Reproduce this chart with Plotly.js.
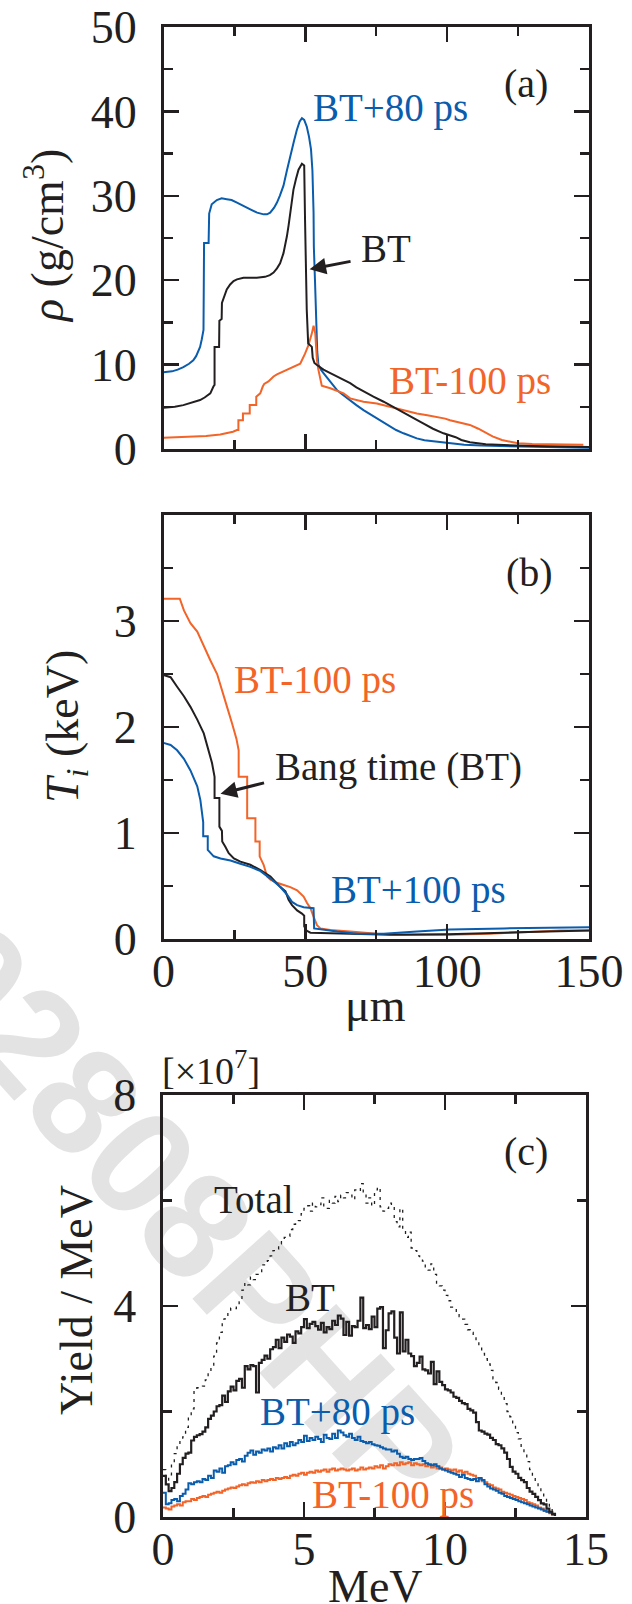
<!DOCTYPE html>
<html><head><meta charset="utf-8">
<script src="https://cdn.plot.ly/plotly-3.0.1.min.js"></script>
<style>html,body{margin:0;padding:0;background:#fff}#chart{width:632px;height:1604px}</style>
</head><body><div id="chart"></div>
<script>
// ---------- Panel (a): density rho (g/cm^3) vs radius (um) ----------
const rhoX_BTp80 = [0,3,5,7,9,10.5,11.5,12.3,12.9,13.5,14.1,14.3,15.9,16.1,16.5,17.0,18.8,20.5,22.3,24,25.9,28,30.6,33,35.3,36.5,37.6,39,40,41,42.3,43.5,44.7,46,47,48,48.8,49.6,50.5,51.3,52.0,52.5,52.9,53.0,53.4,53.8,54.2,54.6,55.5,56.4,57.5,58.8,60,61.1,62.5,64,65.8,68,70.5,73,75.2,77.5,79.9,82,84.6,87,89.3,92,96.4,101,106,112,120,130,140,150];
const rhoY_BTp80 = [9.1,9.2,9.4,9.7,10.1,10.5,11.0,11.6,12.1,13.0,14.1,24.4,24.4,27.9,28.5,29.0,29.5,29.7,29.6,29.5,29.2,28.8,28.4,28.0,27.8,27.8,28.0,28.6,29.2,30.0,31.2,33.0,34.8,36.5,37.8,38.8,39.2,39.0,38.2,37.0,35.5,33.0,28.0,24.0,20.0,14.0,11.5,10.0,9.4,9.0,8.5,8.0,7.5,7.0,6.6,6.2,5.8,5.2,4.6,4.1,3.6,3.1,2.65,2.25,1.86,1.55,1.26,1.05,0.87,0.67,0.5,0.4,0.32,0.25,0.2,0.15];
const rhoX_BT = [0,4,7,10,12.9,14.5,16.5,17.6,18.0,18.0,19.6,19.7,20.5,20.6,21.5,22.3,23.5,24.7,25.9,28.2,32.9,35.8,37.5,38.8,40,41.1,42.3,43,43.5,44.1,44.7,45.3,45.8,46.7,47.6,48.8,49.6,49.9,50.2,50.5,51.0,52.3,52.6,53.2,54.1,56.4,58.8,61.1,63.5,65.8,68,70.5,74,77.6,81,84.6,88,91.7,95,98.7,101,103,105,108,113.6,120,130,140,150];
const rhoY_BT = [4.9,5.0,5.2,5.5,5.8,6.1,6.6,7.4,7.6,12.1,12.1,15.2,15.4,17.3,18.2,18.9,19.5,19.9,20.1,20.3,20.3,20.4,20.6,20.9,21.4,22.0,23.2,24.2,25.2,26.5,27.9,29.3,30.7,32.0,33.1,33.8,33.6,27.1,20.8,16.5,12.5,12.1,10.8,10.2,9.95,9.4,9.0,8.6,8.2,7.8,7.3,6.8,6.2,5.6,5.0,4.4,3.7,3.0,2.4,1.86,1.66,1.4,1.07,0.8,0.55,0.45,0.35,0.3,0.25];
const rhoX_BTm100 = [0,5,10,15,20,22.3,24.5,25.9,26.4,26.4,28.0,28.0,30.4,30.4,32.7,32.7,34.1,35.0,35.5,37,38.8,40,42.3,44,45.8,48.2,49.9,51.1,52.3,52.9,53.5,54.1,54.6,55.2,55.8,58.8,61.1,63.5,65.8,70.5,75.2,79.9,84.6,89.3,93,96.4,99.3,101,104,108,111,113.6,116,119.3,122,125,130,140,148];
const rhoY_BTm100 = [1.34,1.4,1.45,1.55,1.72,1.86,2.05,2.25,2.25,3.4,3.4,4.2,4.2,5.2,5.2,6.2,6.6,7.4,7.7,8.0,8.6,8.85,9.2,9.5,9.75,10.1,11.3,12.3,13.7,14.6,13.7,10.5,9.4,8.2,7.5,7.2,6.9,6.6,6.0,5.6,5.4,5.0,4.6,4.2,4.0,3.8,3.6,3.4,3.2,2.85,2.4,1.9,1.5,1.07,0.85,0.67,0.58,0.52,0.5];

// ---------- Panel (b): ion temperature Ti (keV) vs radius (um) ----------
const tiX_BTm100 = [0,5.75,7.2,9.5,11.9,14.2,16.5,18.9,20.7,22.4,24.2,25.7,26.5,26.5,29.5,29.5,32.4,32.4,33.9,33.9,35.3,36.5,37.7,40.0,42.4,44.7,47.1,49.4,50.6,51.8,52.9,54.1,55.3,58.8,65.8,75.2,84.6,101,115,130,140,150];
const tiY_BTm100 = [3.21,3.21,3.10,2.98,2.90,2.76,2.63,2.50,2.35,2.19,2.03,1.89,1.78,1.53,1.53,1.14,1.14,0.92,0.92,0.78,0.70,0.59,0.56,0.53,0.51,0.49,0.46,0.40,0.34,0.29,0.21,0.13,0.10,0.085,0.07,0.05,0.04,0.04,0.05,0.07,0.08,0.08];
const tiX_BT = [0,2.5,4.8,7.2,9.5,11.9,14.2,16.0,17.1,18.0,18.0,19.7,19.7,20.6,20.7,21.8,23.0,24.8,27.1,30.6,34.2,37.7,41.2,43.0,44.1,45.3,47.1,48.8,49.6,49.6,50.4,51.8,56.5,65.8,80,100,120,135,150];
const tiY_BT = [2.49,2.47,2.38,2.29,2.19,2.07,1.94,1.78,1.66,1.53,1.33,1.33,1.06,1.02,0.92,0.87,0.81,0.76,0.73,0.70,0.65,0.59,0.49,0.45,0.37,0.32,0.27,0.24,0.22,0.12,0.08,0.06,0.055,0.05,0.04,0.045,0.06,0.07,0.08];
const tiX_BTp100 = [0,2.5,4.8,7.2,9.5,11.9,13.0,13.6,14.0,14.0,15.6,15.6,16.5,17.7,20.1,23.6,27.1,30.6,34.2,37.7,41.2,43.5,45.3,47.1,49.4,52.3,52.9,53.1,56.5,61.2,68.2,77.6,89.3,101,120,150];
const tiY_BTp100 = [1.85,1.83,1.78,1.70,1.59,1.44,1.31,1.19,1.10,0.97,0.97,0.84,0.81,0.78,0.76,0.74,0.71,0.68,0.64,0.57,0.49,0.42,0.35,0.32,0.30,0.29,0.29,0.10,0.085,0.07,0.05,0.05,0.07,0.09,0.1,0.11];

// ---------- Panel (c): yield / MeV (x1e7), 0.1 MeV bins starting at 0 MeV ----------
const binWidthMeV = 0.1;
const yieldTotal = [
0.90,0.62,0.80,1.00,1.20,1.35,1.45,1.52,1.70,1.90,
2.05,2.40,2.45,2.46,2.48,2.60,2.75,2.85,3.05,3.30,
3.50,3.75,3.80,3.90,3.96,3.95,4.00,4.08,4.30,4.44,
4.40,4.55,4.50,4.60,4.62,4.78,4.80,4.86,4.95,5.05,
5.08,5.18,5.25,5.30,5.32,5.45,5.55,5.60,5.62,5.75,
5.85,5.90,5.80,5.95,5.88,5.92,6.05,5.90,5.85,6.00,
5.95,6.08,5.98,6.10,6.05,6.15,6.10,6.02,6.20,6.18,
6.32,6.12,5.95,6.05,5.90,6.20,6.25,5.88,5.80,5.85,
5.95,5.90,5.60,5.50,5.85,5.45,5.30,5.40,5.10,5.05,
4.95,4.90,4.85,4.72,4.68,4.80,4.60,4.40,4.38,4.30,
4.20,4.10,3.98,3.95,3.90,3.80,3.75,3.65,3.55,3.50,
3.42,3.35,3.22,3.10,3.00,2.90,2.78,2.62,2.55,2.42,
2.30,2.15,2.00,1.90,1.75,1.60,1.48,1.30,1.20,1.05,
0.90,0.78,0.65,0.55,0.45,0.35,0.25,0.18,0.08,0.03];
const yieldBT = [
0.78,0.62,0.49,0.55,0.66,0.82,1.00,1.12,1.20,1.22,
1.45,1.52,1.55,1.57,1.62,1.70,1.86,1.92,2.00,2.10,
2.12,2.30,2.18,2.38,2.47,2.40,2.58,2.62,2.45,2.86,
2.80,2.88,2.86,2.36,2.92,2.98,3.06,3.00,3.18,3.22,
3.36,3.20,3.40,3.32,3.46,3.42,3.30,3.52,3.48,3.60,
3.75,3.58,3.66,3.70,3.62,3.55,3.68,3.50,3.60,3.56,
3.72,3.64,3.82,3.76,3.45,3.70,3.44,3.62,3.60,3.72,
4.16,3.58,3.64,3.56,3.80,3.60,3.95,3.98,3.20,3.54,
3.86,3.90,3.40,3.10,3.88,3.14,3.36,3.10,3.05,2.86,
2.92,3.04,2.80,2.78,2.72,2.94,2.52,2.76,2.56,2.50,
2.42,2.40,2.36,2.28,2.26,2.20,2.16,2.14,2.05,2.02,
1.98,1.80,1.64,1.62,1.58,1.56,1.50,1.46,1.38,1.36,
1.30,1.22,1.10,0.95,0.86,0.82,0.74,0.70,0.66,0.55,
0.48,0.44,0.38,0.32,0.26,0.24,0.16,0.10,0.06,0.02];
const yieldBTp80 = [
0.46,0.24,0.26,0.32,0.34,0.30,0.40,0.44,0.52,0.64,
0.62,0.66,0.68,0.66,0.72,0.70,0.78,0.74,0.88,0.86,
0.92,0.84,0.96,0.98,1.04,1.00,1.08,1.10,1.05,1.16,
1.22,1.26,1.18,1.24,1.22,1.28,1.26,1.30,1.24,1.32,
1.30,1.36,1.30,1.40,1.34,1.42,1.36,1.40,1.46,1.42,
1.54,1.44,1.50,1.46,1.52,1.48,1.42,1.56,1.50,1.48,
1.58,1.50,1.64,1.60,1.55,1.52,1.58,1.50,1.46,1.52,
1.44,1.42,1.40,1.42,1.38,1.36,1.35,1.32,1.30,1.28,
1.28,1.24,1.26,1.20,1.14,1.12,1.14,1.10,1.08,1.10,
1.10,1.12,1.06,1.02,1.00,0.98,1.00,0.96,0.92,0.90,
0.88,0.86,0.84,0.82,0.80,0.76,0.80,0.74,0.72,0.70,
0.72,0.68,0.74,0.70,0.62,0.58,0.54,0.52,0.50,0.46,
0.44,0.40,0.38,0.36,0.34,0.32,0.30,0.28,0.26,0.24,
0.22,0.20,0.18,0.16,0.14,0.12,0.10,0.08,0.05,0.02];
const yieldBTm100 = [
0.18,0.16,0.14,0.20,0.22,0.24,0.22,0.28,0.30,0.30,
0.34,0.32,0.36,0.38,0.40,0.38,0.42,0.44,0.46,0.48,
0.46,0.50,0.52,0.54,0.56,0.55,0.58,0.60,0.62,0.60,
0.64,0.66,0.65,0.68,0.66,0.70,0.68,0.70,0.72,0.70,
0.74,0.72,0.74,0.76,0.74,0.78,0.80,0.78,0.82,0.84,
0.80,0.84,0.86,0.84,0.88,0.86,0.88,0.90,0.86,0.90,
0.92,0.88,0.90,0.92,0.90,0.88,0.90,0.92,0.88,0.90,
0.94,0.90,0.92,0.94,0.92,0.96,0.94,0.98,0.92,0.96,
1.00,0.98,1.02,0.98,1.04,1.00,1.02,1.04,0.98,1.02,
1.00,0.98,1.00,0.96,0.98,0.94,0.96,0.92,0.94,0.90,
0.92,0.90,0.88,0.90,0.86,0.88,0.84,0.86,0.82,0.80,
0.78,0.74,0.72,0.68,0.66,0.62,0.60,0.56,0.54,0.52,
0.48,0.46,0.44,0.42,0.40,0.38,0.36,0.34,0.32,0.28,
0.26,0.24,0.22,0.18,0.16,0.12,0.10,0.07,0.04,0.02];

// ---------- Tick values ----------
const rhoTicks = [0,10,20,30,40,50], rhoMinor = [5,15,25,35,45];
const posTicks = [0,50,100,150], posMinor = [25,75,125];
const tiTicks = [0,1,2,3], tiMinor = [0.5,1.5,2.5,3.5];
const mevTicks = [0,5,10,15], mevMinor = [2.5,7.5,12.5];
const yieldTicks = [0,4,8], yieldMinor = [2,6];

// ---------- Style ----------
const W = 632, H = 1604;
const INK = '#231f20', BLUE = '#0a5cad', ORANGE = '#f26428';
const SERIF = 'Liberation Serif';
const px = v => v / W, py = v => 1 - v / H;
const energyMeV = yieldBT.map((_, i) => +(i * binWidthMeV).toFixed(2));

function axis(dom, range, ticks, minor, anchor, extra) {
  return Object.assign({
    domain: dom, range: range, anchor: anchor,
    showline: true, mirror: 'ticks', linecolor: INK, linewidth: 2.6,
    ticks: 'inside', ticklen: 15, tickwidth: 2.4, tickcolor: INK,
    tickmode: 'array', tickvals: ticks,
    minor: {tickmode: 'array', tickvals: minor, ticks: 'inside', ticklen: 9, tickwidth: 2.4, tickcolor: INK},
    showgrid: false, zeroline: false,
    tickfont: {family: SERIF, size: 46, color: INK}
  }, extra || {});
}

const xDomAB = [px(163.5), px(589)], xDomC = [px(163), px(586)];
const yDomA = [py(449), py(27)], yDomB = [py(939), py(515)], yDomC = [py(1517), py(1095)];

const lineTrace = (x, y, color, w, xa, ya, shape, dash) => ({
  x: x, y: y, type: 'scatter', mode: 'lines', xaxis: xa, yaxis: ya,
  line: {color: color, width: w, shape: shape || 'linear', dash: dash || 'solid'},
  hoverinfo: 'skip', showlegend: false, cliponaxis: true
});

const data = [
  lineTrace(rhoX_BTp80, rhoY_BTp80, BLUE, 2, 'x', 'y'),
  lineTrace(rhoX_BTm100, rhoY_BTm100, ORANGE, 2, 'x', 'y'),
  lineTrace(rhoX_BT, rhoY_BT, INK, 2, 'x', 'y'),
  lineTrace(tiX_BTm100, tiY_BTm100, ORANGE, 2, 'x2', 'y2'),
  lineTrace(tiX_BT, tiY_BT, INK, 2, 'x2', 'y2'),
  lineTrace(tiX_BTp100, tiY_BTp100, BLUE, 2, 'x2', 'y2'),
  lineTrace(energyMeV, yieldTotal, INK, 1.3, 'x3', 'y3', 'hv', '3px,5px'),
  lineTrace(energyMeV, yieldBTm100, ORANGE, 2, 'x3', 'y3', 'hv'),
  lineTrace(energyMeV, yieldBTp80, BLUE, 2, 'x3', 'y3', 'hv'),
  lineTrace(energyMeV, yieldBT, INK, 2.2, 'x3', 'y3', 'hv')
];

const lbl = (text, x, y, color, size, extra) => Object.assign({
  text: text, xref: 'paper', yref: 'paper', x: px(x), y: py(y),
  xanchor: 'center', yanchor: 'middle', showarrow: false,
  font: {family: SERIF, size: size || 39, color: color || INK}
}, extra || {});
const arrow = (xa, ya, x, y, ax, ay) => ({
  text: ' ', xref: xa, yref: ya, x: x, y: y, axref: xa, ayref: ya, ax: ax, ay: ay,
  showarrow: true, arrowhead: 2, arrowsize: 1.1, arrowwidth: 3, arrowcolor: INK,
  font: {family: SERIF, size: 10, color: INK}
});

const annotations = [
  // axis titles
  lbl('<i>ρ</i> (g/cm<sup>3</sup>)', 44, 236, INK, 46, {textangle: -90}),
  lbl('<i>T</i><sub><i>i</i></sub> (keV)', 66, 727, INK, 46, {textangle: -90}),
  lbl('Yield / MeV', 76, 1300, INK, 46, {textangle: -90}),
  lbl('μm', 376, 1006, INK, 46),
  lbl('MeV', 376, 1586, INK, 46),
  // panel (a)
  lbl('(a)', 526, 84, INK, 40),
  lbl('BT+80 ps', 390, 108, BLUE),
  lbl('BT', 386, 248),
  lbl('BT-100 ps', 470, 381, ORANGE),
  arrow('x', 'y', 51.5, 21.3, 67, 22.3),
  // panel (b)
  lbl('(b)', 529, 572, INK, 40),
  lbl('BT-100 ps', 315, 680, ORANGE),
  lbl('Bang time (BT)', 398, 767),
  lbl('BT+100 ps', 418, 890, BLUE),
  arrow('x2', 'y2', 20.1, 1.37, 36.5, 1.48),
  // panel (c)
  lbl('[×10<sup>7</sup>]', 211, 1068, INK, 38),
  lbl('(c)', 526, 1151, INK, 40),
  lbl('Total', 254, 1199),
  lbl('BT', 310, 1297),
  lbl('BT+80 ps', 337, 1412, BLUE),
  lbl('BT-100 ps', 393, 1495, ORANGE)
];

// light-grey diagonal watermark of the source page, drawn beneath the curves
const watermarkText = '02808PHP';
const wmSvg = "<svg xmlns='http://www.w3.org/2000/svg' width='" + W + "' height='" + H + "'>" +
  "<text x='188' y='1216' text-anchor='middle' dominant-baseline='central' " +
  "font-family='Liberation Sans' font-weight='bold' font-size='150' fill='#e3e3e3' " +
  "transform='rotate(48 188 1216)'>" + watermarkText + "</text></svg>";

const layout = {
  width: W, height: H, margin: {l: 0, r: 0, t: 0, b: 0},
  paper_bgcolor: '#fff', plot_bgcolor: 'rgba(0,0,0,0)',
  font: {family: SERIF, color: INK},
  showlegend: false,
  xaxis: axis(xDomAB, [0, 150], posTicks, posMinor, 'y', {showticklabels: false}),
  yaxis: axis(yDomA, [0, 50], rhoTicks, rhoMinor, 'x', {ticklabelstandoff: 15}),
  xaxis2: axis(xDomAB, [0, 150], posTicks, posMinor, 'y2', {ticklabelstandoff: -10}),
  yaxis2: axis(yDomB, [0, 4], tiTicks, tiMinor, 'x2', {ticklabelstandoff: 15}),
  xaxis3: axis(xDomC, [0, 15], mevTicks, mevMinor, 'y3', {ticklabelstandoff: -10}),
  yaxis3: axis(yDomC, [0, 8], yieldTicks, yieldMinor, 'x3', {ticklabelstandoff: 15}),
  images: [{
    source: 'data:image/svg+xml;charset=utf-8,' + encodeURIComponent(wmSvg),
    xref: 'paper', yref: 'paper', x: 0, y: 1, sizex: 1, sizey: 1,
    xanchor: 'left', yanchor: 'top', sizing: 'stretch', layer: 'below'
  }],
  annotations: annotations
};

Plotly.newPlot('chart', data, layout, {staticPlot: true, displayModeBar: false});
</script></body></html>
